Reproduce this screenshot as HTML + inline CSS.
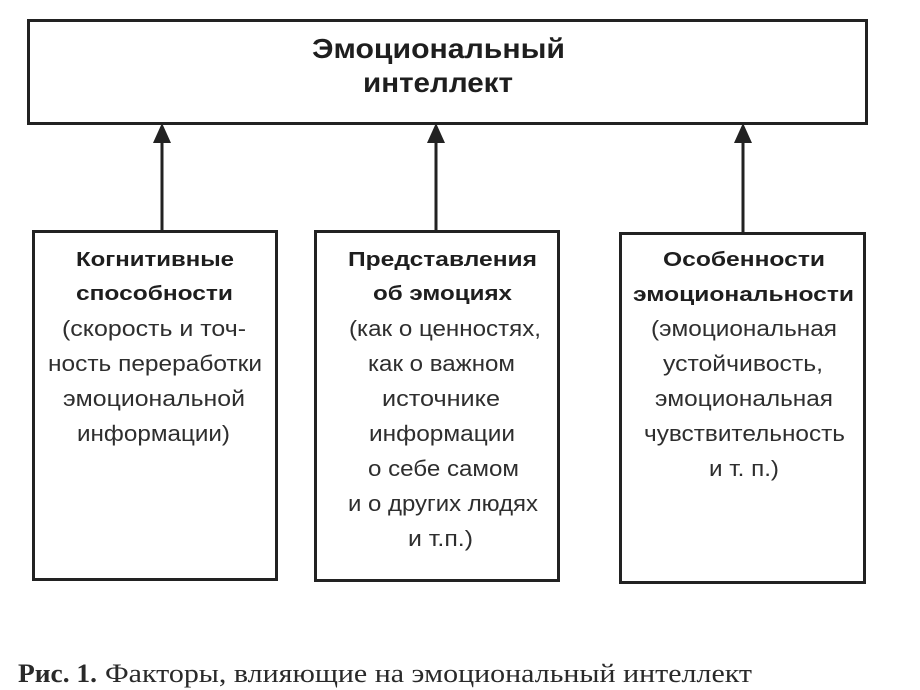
<!DOCTYPE html>
<html><head><meta charset="utf-8">
<style>
html,body{margin:0;padding:0;background:#fff;}
svg{display:block;}
.b{font-family:"Liberation Sans",sans-serif;font-weight:bold;fill:#1e1e1e;}
.r{font-family:"Liberation Sans",sans-serif;fill:#2e2e2e;}
.s{font-family:"Liberation Serif",serif;fill:#2a2a2a;}
</style></head>
<body>
<svg width="920" height="690" viewBox="0 0 920 690" xmlns="http://www.w3.org/2000/svg">
<rect x="0" y="0" width="920" height="690" fill="#fff"/>
<!-- top box -->
<rect x="28.5" y="20.5" width="838" height="103" fill="none" stroke="#222" stroke-width="3"/>
<text class="b" x="312" y="58" font-size="28" textLength="253" lengthAdjust="spacingAndGlyphs">Эмоциональный</text>
<text class="b" x="363" y="92" font-size="28" textLength="150" lengthAdjust="spacingAndGlyphs">интеллект</text>

<!-- arrows -->
<g stroke="#222" stroke-width="3">
<line x1="162" y1="140" x2="162" y2="231"/>
<line x1="436" y1="140" x2="436" y2="231"/>
<line x1="743" y1="140" x2="743" y2="233"/>
</g>
<g fill="#222">
<polygon points="162,123 153,143 171,143"/>
<polygon points="436,123 427,143 445,143"/>
<polygon points="743,123 734,143 752,143"/>
</g>

<!-- boxes -->
<rect x="33.5" y="231.5" width="243" height="348" fill="none" stroke="#222" stroke-width="3"/>
<rect x="315.5" y="231.5" width="243" height="349" fill="none" stroke="#222" stroke-width="3"/>
<rect x="620.5" y="233.5" width="244" height="349" fill="none" stroke="#222" stroke-width="3"/>

<!-- left box text -->
<text class="b" x="76" y="266" font-size="20.5" textLength="158" lengthAdjust="spacingAndGlyphs">Когнитивные</text>
<text class="b" x="76" y="300" font-size="20.5" textLength="157" lengthAdjust="spacingAndGlyphs">способности</text>
<text class="r" x="62" y="336" font-size="22" textLength="184" lengthAdjust="spacingAndGlyphs">(скорость и точ-</text>
<text class="r" x="48" y="371" font-size="22" textLength="214" lengthAdjust="spacingAndGlyphs">ность переработки</text>
<text class="r" x="63" y="406" font-size="22" textLength="182" lengthAdjust="spacingAndGlyphs">эмоциональной</text>
<text class="r" x="77" y="441" font-size="22" textLength="153" lengthAdjust="spacingAndGlyphs">информации)</text>

<!-- middle box text -->
<text class="b" x="348" y="266" font-size="20.5" textLength="189" lengthAdjust="spacingAndGlyphs">Представления</text>
<text class="b" x="373" y="300" font-size="20.5" textLength="139" lengthAdjust="spacingAndGlyphs">об эмоциях</text>
<text class="r" x="349" y="336" font-size="22" textLength="192" lengthAdjust="spacingAndGlyphs">(как о ценностях,</text>
<text class="r" x="368" y="371" font-size="22" textLength="147" lengthAdjust="spacingAndGlyphs">как о важном</text>
<text class="r" x="382" y="406" font-size="22" textLength="118" lengthAdjust="spacingAndGlyphs">источнике</text>
<text class="r" x="369" y="441" font-size="22" textLength="146" lengthAdjust="spacingAndGlyphs">информации</text>
<text class="r" x="368" y="476" font-size="22" textLength="151" lengthAdjust="spacingAndGlyphs">о себе самом</text>
<text class="r" x="348" y="511" font-size="22" textLength="190" lengthAdjust="spacingAndGlyphs">и о других людях</text>
<text class="r" x="408" y="546" font-size="22" textLength="65" lengthAdjust="spacingAndGlyphs">и т.п.)</text>

<!-- right box text -->
<text class="b" x="663" y="266" font-size="20.5" textLength="162" lengthAdjust="spacingAndGlyphs">Особенности</text>
<text class="b" x="633" y="301" font-size="20.5" textLength="221" lengthAdjust="spacingAndGlyphs">эмоциональности</text>
<text class="r" x="651" y="336" font-size="22" textLength="186" lengthAdjust="spacingAndGlyphs">(эмоциональная</text>
<text class="r" x="663" y="371" font-size="22" textLength="160" lengthAdjust="spacingAndGlyphs">устойчивость,</text>
<text class="r" x="655" y="406" font-size="22" textLength="178" lengthAdjust="spacingAndGlyphs">эмоциональная</text>
<text class="r" x="644" y="441" font-size="22" textLength="201" lengthAdjust="spacingAndGlyphs">чувствительность</text>
<text class="r" x="709" y="476" font-size="22" textLength="70" lengthAdjust="spacingAndGlyphs">и т. п.)</text>

<!-- caption -->
<text class="s" x="18" y="682" font-size="26" font-weight="bold" textLength="79" lengthAdjust="spacingAndGlyphs">Рис. 1.</text>
<text class="s" x="105" y="682" font-size="26" textLength="647" lengthAdjust="spacingAndGlyphs">Факторы, влияющие на эмоциональный интеллект</text>
</svg>
</body></html>
